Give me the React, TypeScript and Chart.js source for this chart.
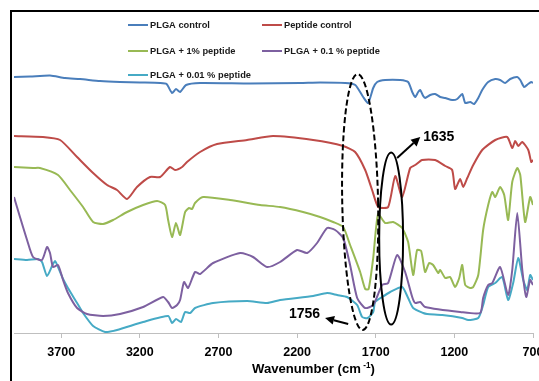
import React, { useEffect, useRef } from "react";
import { Chart, registerables } from "chart.js";

Chart.register(...registerables);

// ---------- data (wavenumber cm-1, offset transmittance a.u.) ----------
const seriesNames = [
  "PLGA control",
  "Peptide control",
  "PLGA + 1% peptide",
  "PLGA + 0.1 % peptide",
  "PLGA + 0.01 % peptide",
];
const seriesColors = ["#4a7ebb", "#be4b48", "#98b954", "#7d60a0", "#46aac5"];
const xTickValues = [3700, 3200, 2700, 2200, 1700, 1200, 700];

const plgaControl: [number, number][] = [
  [4000, 256], [3898, 256.5], [3771, 257.5], [3676, 255], [3580, 254], [3453, 252],
  [3326, 251], [3199, 250.5], [3071, 250], [3030, 249], [2995, 240], [2970, 244],
  [2944, 241], [2906, 248], [2817, 250], [2499, 249.5], [2181, 250], [2054, 250.5],
  [1894, 250], [1830, 248], [1780, 236], [1748, 230], [1716, 245], [1691, 251],
  [1640, 253], [1545, 253], [1494, 251], [1468, 241], [1449, 236], [1430, 241],
  [1417, 243], [1398, 237], [1386, 235], [1354, 238], [1322, 239], [1290, 236],
  [1258, 235], [1214, 233], [1182, 234], [1150, 239], [1131, 230], [1099, 231],
  [1074, 229], [1048, 235], [1023, 243], [985, 251], [940, 254], [909, 253],
  [877, 250], [845, 254], [800, 256], [781, 253], [756, 246], [731, 249],
  [711, 251], [700, 250],
];

const peptideControl: [number, number][] = [
  [4000, 197], [3816, 196], [3707, 193], [3599, 176], [3497, 160], [3408, 148],
  [3345, 143], [3281, 134], [3218, 146], [3135, 156], [3071, 156], [3008, 166],
  [2976, 163], [2931, 166], [2900, 171], [2817, 181], [2709, 189], [2518, 193],
  [2353, 197], [2098, 193], [1907, 187], [1831, 181], [1767, 163], [1723, 143],
  [1684, 126], [1621, 126], [1576, 157], [1532, 136], [1481, 165], [1449, 168],
  [1405, 173], [1322, 173], [1258, 167], [1214, 163], [1195, 144], [1163, 154],
  [1144, 146], [1118, 155], [1080, 168], [1023, 183], [940, 193], [864, 196],
  [832, 185], [813, 192], [794, 187], [768, 191], [730, 183], [711, 171], [700, 173],
];

const plga1Peptide: [number, number][] = [
  [4000, 166], [3879, 165], [3835, 165], [3720, 158], [3644, 143], [3561, 126],
  [3497, 111], [3434, 109], [3370, 113], [3281, 121], [3179, 128], [3090, 132],
  [3039, 128], [3020, 113], [2995, 96], [2970, 110], [2944, 98], [2912, 121],
  [2887, 125], [2868, 124], [2849, 130], [2798, 136], [2626, 133], [2435, 128],
  [2308, 126], [2162, 121], [2054, 116], [1971, 111], [1907, 106], [1863, 88],
  [1799, 61], [1767, 44], [1745, 44], [1716, 75], [1685, 119], [1640, 110],
  [1589, 111], [1532, 105], [1494, 91], [1462, 58], [1437, 83], [1411, 82],
  [1386, 61], [1360, 70], [1335, 68], [1303, 60], [1290, 63], [1258, 55],
  [1227, 56], [1195, 46], [1169, 55], [1150, 68], [1131, 48], [1099, 45],
  [1080, 46], [1048, 58], [1017, 103], [985, 128], [959, 141], [940, 136],
  [909, 146], [883, 138], [858, 113], [832, 151], [800, 165], [781, 158],
  [750, 111], [718, 136], [700, 128],
];

const plga01Peptide: [number, number][] = [
  [4000, 136], [3962, 116], [3917, 93], [3879, 76], [3822, 73], [3790, 86],
  [3771, 80], [3752, 66], [3720, 68], [3688, 53], [3657, 40], [3599, 25],
  [3536, 19], [3434, 17], [3326, 19], [3179, 26], [3052, 36], [3020, 31],
  [2995, 25], [2963, 28], [2944, 33], [2919, 51], [2893, 45], [2849, 61],
  [2817, 59], [2734, 70], [2562, 80], [2480, 76], [2391, 66], [2308, 71],
  [2200, 83], [2136, 80], [2073, 90], [2009, 105], [1958, 103], [1907, 95],
  [1863, 68], [1818, 35], [1767, 25], [1716, 28], [1659, 48], [1621, 50],
  [1564, 78], [1513, 61], [1468, 36], [1449, 30], [1417, 31], [1386, 26],
  [1163, 21], [1036, 20], [1017, 35], [985, 48], [959, 50], [909, 66],
  [858, 38], [832, 63], [800, 120], [768, 63], [743, 36], [718, 53], [700, 48],
];

const plga001Peptide: [number, number][] = [
  [4000, 74], [3917, 73], [3847, 74], [3822, 71], [3790, 57], [3758, 67],
  [3739, 72], [3720, 66], [3688, 54], [3657, 45], [3599, 30], [3561, 20],
  [3497, 7], [3421, 1], [3345, 3], [3179, 11], [3020, 17], [2995, 10],
  [2970, 14], [2938, 11], [2912, 21], [2880, 20], [2849, 25], [2734, 30],
  [2518, 32], [2391, 30], [2308, 33], [2098, 37], [2009, 40], [1945, 38],
  [1882, 36], [1818, 28], [1786, 16], [1752, 15], [1716, 21], [1704, 31],
  [1659, 36], [1608, 41], [1532, 46], [1494, 35], [1462, 25], [1398, 20],
  [1373, 19], [1277, 18], [1150, 15], [1112, 13], [1048, 15], [1017, 28],
  [985, 46], [940, 50], [896, 56], [858, 33], [826, 50], [794, 75],
  [762, 53], [737, 43], [718, 58], [700, 53],
];

const seriesData = [plgaControl, peptideControl, plga1Peptide, plga01Peptide, plga001Peptide];

// annotations, in data units (wavenumber, a.u.)
const dashedEllipse = { center: [1799, 131], radii: [114, 128], rotation: -0.02 };
const solidEllipse = { center: [1602, 94.5], radii: [76, 86], rotation: 0 };
const arrowNotes = [
  { from: [1564, 175], to: [1417, 196], label: "1635", at: [1398, 195.5], align: "left" },
  { from: [1875, 9], to: [2022, 15], label: "1756", at: [2054, 19], align: "right" },
];

const FONT = '"Liberation Sans", Arial, sans-serif';

const overlayPlugin = {
  id: "overlay",
  afterDraw(chart: any) {
    const ctx: CanvasRenderingContext2D = chart.ctx;
    const xs = chart.scales.x;
    const ys = chart.scales.y;
    const px = (v: number) => xs.getPixelForValue(v);
    const py = (v: number) => ys.getPixelForValue(v);
    ctx.save();

    // outer frame
    ctx.strokeStyle = "#000";
    ctx.lineWidth = 2;
    ctx.setLineDash([]);
    ctx.strokeRect(11, 11, 600, 420);

    // legend
    ctx.font = `bold 10px ${FONT}`;
    const ref = ctx.measureText("PLGA + 0.1 % peptide").width;
    const lsize = (10 * 96) / ref;
    ctx.font = `bold ${lsize}px ${FONT}`;
    ctx.textBaseline = "middle";
    ctx.textAlign = "left";
    const cols = [128, 262];
    const rows = [25, 51, 75];
    seriesNames.forEach((name, i) => {
      const lx = cols[i % 2];
      const ly = rows[Math.floor(i / 2)];
      ctx.strokeStyle = seriesColors[i];
      ctx.lineWidth = 2;
      ctx.beginPath();
      ctx.moveTo(lx, ly);
      ctx.lineTo(lx + 20, ly);
      ctx.stroke();
      ctx.fillStyle = "#1a1a1a";
      ctx.fillText(name, lx + 22, ly + 0.5);
    });

    // axis title with superscript
    const main = "Wavenumber (cm";
    const sup = " -1";
    const close = ")";
    const measure = (s: number) => {
      ctx.font = `bold ${s}px ${FONT}`;
      const a = ctx.measureText(main).width + ctx.measureText(close).width;
      ctx.font = `bold ${s * 0.62}px ${FONT}`;
      const b = ctx.measureText(sup).width;
      return a + b;
    };
    const tsize = (12 * 123) / measure(12);
    let tx = 252;
    const tyBase = 373;
    ctx.fillStyle = "#000";
    ctx.textBaseline = "alphabetic";
    ctx.font = `bold ${tsize}px ${FONT}`;
    ctx.fillText(main, tx, tyBase);
    tx += ctx.measureText(main).width;
    ctx.font = `bold ${tsize * 0.62}px ${FONT}`;
    ctx.fillText(sup, tx, tyBase - tsize * 0.4);
    tx += ctx.measureText(sup).width;
    ctx.font = `bold ${tsize}px ${FONT}`;
    ctx.fillText(close, tx, tyBase);

    // ellipses
    const drawEllipse = (e: any, dashed: boolean) => {
      const cx = px(e.center[0]);
      const cy = py(e.center[1]);
      const rx = Math.abs(px(e.center[0] + e.radii[0]) - cx);
      const ry = Math.abs(py(e.center[1] + e.radii[1]) - cy);
      ctx.strokeStyle = "#000";
      ctx.lineWidth = 2;
      ctx.setLineDash(dashed ? [6, 3] : []);
      ctx.beginPath();
      ctx.ellipse(cx, cy, rx, ry, e.rotation, 0, Math.PI * 2);
      ctx.stroke();
      ctx.setLineDash([]);
    };
    drawEllipse(dashedEllipse, true);
    drawEllipse(solidEllipse, false);

    // arrows and labels
    arrowNotes.forEach((a) => {
      const x1 = px(a.from[0]);
      const y1 = py(a.from[1]);
      const x2 = px(a.to[0]);
      const y2 = py(a.to[1]);
      const ang = Math.atan2(y2 - y1, x2 - x1);
      const hl = 9;
      const hw = 4.5;
      const bx = x2 - hl * Math.cos(ang);
      const by = y2 - hl * Math.sin(ang);
      ctx.strokeStyle = "#000";
      ctx.fillStyle = "#000";
      ctx.lineWidth = 2;
      ctx.beginPath();
      ctx.moveTo(x1, y1);
      ctx.lineTo(bx, by);
      ctx.stroke();
      ctx.beginPath();
      ctx.moveTo(x2, y2);
      ctx.lineTo(bx + hw * Math.sin(ang), by - hw * Math.cos(ang));
      ctx.lineTo(bx - hw * Math.sin(ang), by + hw * Math.cos(ang));
      ctx.closePath();
      ctx.fill();
      ctx.font = `bold 14px ${FONT}`;
      ctx.textBaseline = "middle";
      ctx.textAlign = a.align as CanvasTextAlign;
      ctx.fillText(a.label, px(a.at[0]), py(a.at[1]));
    });

    ctx.restore();
  },
};

export default function App() {
  const canvasRef = useRef<HTMLCanvasElement>(null);

  useEffect(() => {
    if (!canvasRef.current) return;
    const chart = new Chart(canvasRef.current, {
      type: "line",
      data: {
        datasets: seriesNames.map((name, i) => ({
          label: name,
          data: seriesData[i].map(([x, y]) => ({ x, y })),
          borderColor: seriesColors[i],
          backgroundColor: seriesColors[i],
          borderWidth: 2,
          pointRadius: 0,
          tension: 0.2,
          fill: false,
        })),
      },
      options: {
        responsive: false,
        animation: false,
        devicePixelRatio: 1,
        parsing: false as any,
        normalized: true,
        layout: { padding: { left: 14, right: 6, top: 12, bottom: 0 } },
        plugins: { legend: { display: false }, tooltip: { enabled: false } },
        scales: {
          x: {
            type: "linear",
            min: 700,
            max: 4000,
            reverse: true,
            afterBuildTicks: (s: any) => {
              s.ticks = xTickValues.map((v) => ({ value: v }));
            },
            afterFit: (s: any) => {
              s.height = 48;
              s.paddingLeft = 0;
              s.paddingRight = 0;
            },
            grid: {
              drawOnChartArea: false,
              drawTicks: true,
              tickLength: 5,
              color: "#bfbfbf",
              lineWidth: 1,
            },
            border: { display: true, color: "#bfbfbf", width: 1 },
            ticks: {
              autoSkip: false,
              maxRotation: 0,
              minRotation: 0,
              padding: 7,
              color: "#000",
              font: { family: FONT, size: 12.5, weight: "bold" },
              callback: (v: any) => String(v),
            },
          },
          y: { display: false, min: 0, max: 321 },
        },
      } as any,
      plugins: [overlayPlugin],
    });
    return () => chart.destroy();
  }, []);

  return (
    <div
      style={{
        position: "fixed",
        left: 0,
        top: 0,
        width: 539,
        height: 381,
        background: "#fff",
        overflow: "hidden",
      }}
    >
      <canvas ref={canvasRef} width={539} height={381} style={{ display: "block", width: 539, height: 381 }} />
    </div>
  );
}
